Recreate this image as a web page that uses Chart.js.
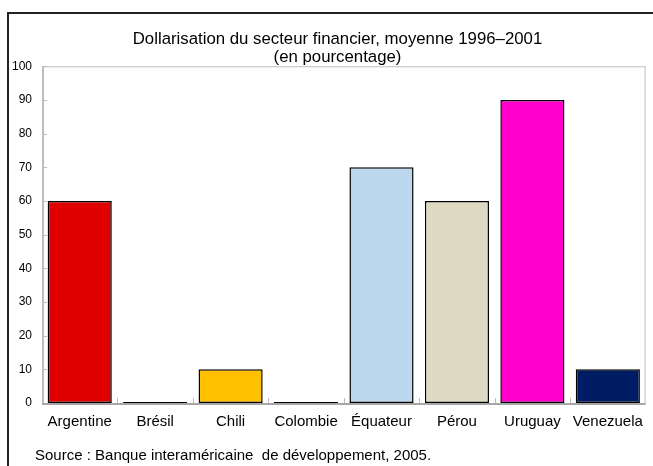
<!DOCTYPE html>
<html>
<head>
<meta charset="utf-8">
<script src="https://cdn.jsdelivr.net/npm/chart.js@4"></script>
<style>
  body { margin: 0; background: #fff; font-family: 'Liberation Sans', Arial, sans-serif; }
  #wrap { position: relative; width: 653px; height: 466px; overflow: hidden; }
  #frame { position: absolute; left: 7px; top: 12px; width: 700px; height: 500px;
           border-left: 2px solid #222; border-top: 2px solid #222; }
  #chart { position: absolute; left: 0; top: 0; }
  #source { position: absolute; left: 35px; top: 446px; font-size: 15px; color: #000; white-space: pre; }
</style>
</head>
<body>
<div id="wrap">
  <div id="frame"></div>
  <canvas id="chart" width="653" height="466"></canvas>
  <div id="source">Source : Banque interaméricaine  de développement, 2005.</div>
</div>
<script>
// --- DATA ---
const countries = ['Argentine', 'Brésil', 'Chili', 'Colombie', 'Équateur', 'Pérou', 'Uruguay', 'Venezuela'];
const dollarisation = [60, 0.3, 10, 0.3, 70, 60, 90, 10];
const barColors = ['#E00000', '#005a2a', '#FFC000', '#5a0060', '#BDD7EE', '#DDD9C3', '#FF00CC', '#001C64'];
const yTicks = [0, 10, 20, 30, 40, 50, 60, 70, 80, 90, 100];

// box + small inside tick marks like the original
const boxPlugin = {
    id: 'box',
    afterLayout(chart) {
        // title in the original is centred a bit to the right
        chart.titleBlock.left += 24;
    },
    beforeDatasetsDraw(chart) {
        const { ctx, chartArea: a, scales } = chart;
        ctx.save();
        ctx.strokeStyle = '#bdbdbd';
        ctx.lineWidth = 1;
        ctx.strokeRect(a.left + 0.5, a.top + 0.5, a.right - a.left - 1, a.bottom - a.top);
        ctx.lineWidth = 2;
        ctx.beginPath();
        ctx.moveTo(a.left + 1, a.top);
        ctx.lineTo(a.left + 1, a.bottom);
        ctx.stroke();
        ctx.lineWidth = 1;
        // y ticks
        yTicks.forEach(v => {
            const y = Math.round(scales.y.getPixelForValue(v)) + 0.5;
            ctx.beginPath();
            ctx.moveTo(a.left, y);
            ctx.lineTo(a.left + 5, y);
            ctx.stroke();
        });
        // x ticks between categories
        for (let i = 0; i < countries.length - 1; i++) {
            const x = Math.round((scales.x.getPixelForTick(i) + scales.x.getPixelForTick(i + 1)) / 2) + 0.5;
            ctx.beginPath();
            ctx.moveTo(x, a.bottom);
            ctx.lineTo(x, a.bottom - 5);
            ctx.stroke();
        }
        ctx.restore();
    },
    afterDatasetsDraw(chart) {
        const { ctx, chartArea: a } = chart;
        ctx.save();
        ctx.strokeStyle = '#a6a6a6';
        ctx.lineWidth = 2;
        ctx.beginPath();
        ctx.moveTo(a.left, a.bottom + 1);
        ctx.lineTo(a.right, a.bottom + 1);
        ctx.stroke();
        ctx.restore();
    }
};

const ctx = document.getElementById('chart').getContext('2d');
new Chart(ctx, {
    type: 'bar',
    data: {
        labels: countries,
        datasets: [{
            data: dollarisation,
            backgroundColor: barColors,
            borderColor: '#000',
            borderWidth: 1.5,
            borderSkipped: false,
            categoryPercentage: 1,
            barPercentage: 0.85
        }]
    },
    plugins: [boxPlugin],
    options: {
        responsive: false,
        animation: false,
        layout: { padding: { left: 0, right: 2, top: 0, bottom: 0 } },
        plugins: {
            legend: { display: false },
            tooltip: { enabled: false },
            title: {
                display: true,
                text: ['Dollarisation du secteur financier, moyenne 1996–2001', '(en pourcentage)'],
                color: '#000',
                font: { family: "'Liberation Sans', Arial, sans-serif", size: 16.8, weight: 'normal', lineHeight: 1.05 },
                padding: { top: 31, bottom: 0 }
            }
        },
        scales: {
            x: {
                grid: { display: false, drawTicks: false },
                border: { display: false },
                ticks: {
                    color: '#000',
                    padding: 10,
                    maxRotation: 0,
                    font: { family: "'Liberation Sans', Arial, sans-serif", size: 15 }
                },
                afterFit: (s) => { s.height = 63; }
            },
            y: {
                min: 0,
                max: 100,
                grid: { display: false, drawTicks: false },
                border: { display: false },
                ticks: {
                    stepSize: 10,
                    color: '#000',
                    padding: 10,
                    font: { family: "'Liberation Sans', Arial, sans-serif", size: 12 }
                },
                afterFit: (s) => { s.width = 42; }
            }
        }
    }
});
</script>
</body>
</html>
